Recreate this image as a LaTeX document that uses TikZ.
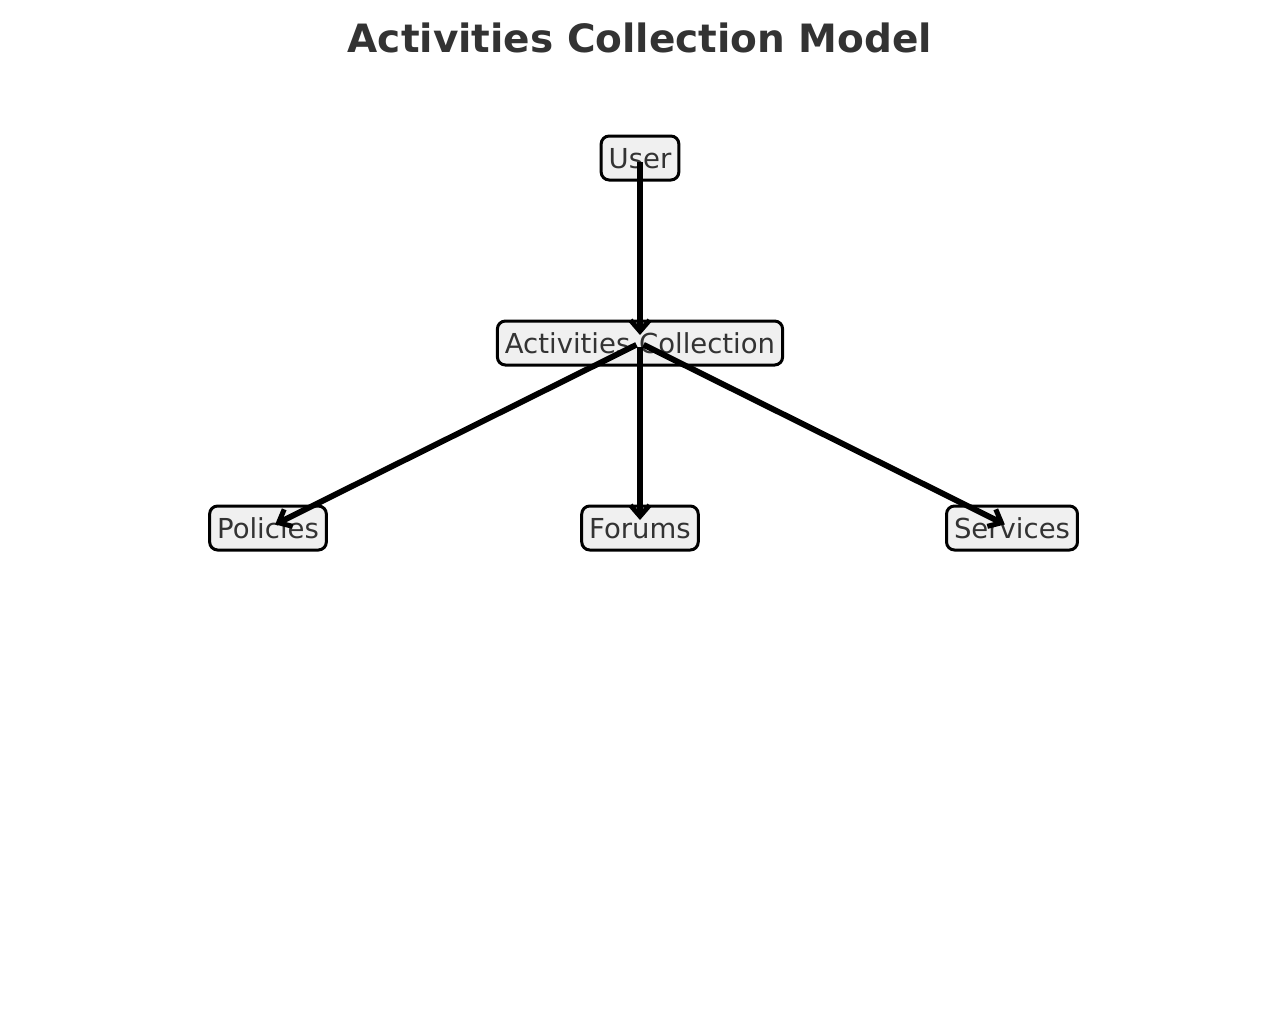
\documentclass[tikz,border=0pt]{standalone}
\usepackage{fontspec}
\setmainfont{DejaVu Sans}
\usetikzlibrary{arrows.meta}
\definecolor{txt}{HTML}{333333}
\definecolor{boxfill}{HTML}{F0F0F0}
\tikzset{
  box/.style={draw=black, line width=3pt, fill=boxfill, rounded corners=8pt,
    text=txt, font=\fontsize{27.5}{32}\selectfont, inner xsep=7.5pt, minimum height=44pt,
    text height=20pt, text depth=0pt},
  conn/.style={line width=5.8pt, -{Straight Barb[length=11pt,width=19pt,line width=5pt]},
    shorten <=4pt, shorten >=8pt},
}
\begin{document}
\begin{tikzpicture}[x=1pt,y=-1pt]
\useasboundingbox (0,0) rectangle (1280,1010);
\node[font=\fontsize{39}{46}\selectfont\bfseries, text=txt] (title) at (640,38) {Activities Collection Model};
\node[box] (user) at (640,158) {User};
\node[box] (act) at (640,343) {Activities Collection};
\node[box] (pol) at (268,528) {Policies};
\node[box] (for) at (640,528) {Forums};
\node[box] (ser) at (1012,528) {Services};
\draw[conn] (user.center) -- (act.center);
\draw[conn] (act.center) -- (pol.center);
\draw[conn] (act.center) -- (for.center);
\draw[conn] (act.center) -- (ser.center);
\end{tikzpicture}
\end{document}
